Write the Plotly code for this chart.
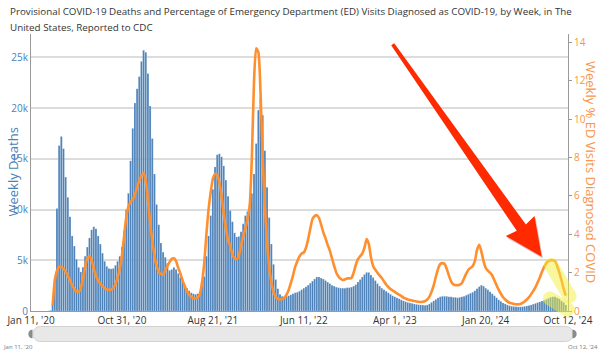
import plotly.graph_objects as go
import pandas as pd
import math

# ---------------- data ----------------
start_date = "2020-01-11"
n_weeks = 248

weekly_deaths = [
    0, 0, 0, 0, 0, 0, 0, 2, 10, 60,
    610, 3270, 10100, 16300, 17200, 16000, 13200, 11200, 9300, 7400,
    6400, 5100, 4300, 3850, 4300, 5400, 6300, 7200, 8000, 8300,
    8100, 7400, 6600, 5700, 4900, 4400, 4200, 4150, 4200, 4500,
    4900, 5400, 6300, 7900, 10000, 11600, 14800, 18000, 20500, 21900,
    23100, 24600, 25700, 25500, 23400, 20200, 17000, 13500, 10500, 8500,
    6700, 5800, 5300, 4700, 4000, 4100, 4300, 4100, 3700, 3300,
    2900, 2550, 2250, 2000, 1800, 1700, 1650, 1700, 1900, 2500,
    3400, 5400, 7400, 9400, 12000, 14200, 15400, 15500, 15200, 14300,
    12900, 11300, 9900, 8800, 7700, 7300, 7350, 7800, 8600, 9400,
    9800, 10500, 11600, 13500, 16500, 19800, 21000, 19300, 15800, 12200,
    9200, 6600, 4600, 3100, 2200, 1650, 1450, 1400, 1450, 1500,
    1600, 1700, 1800, 1850, 1950, 2100, 2250, 2400, 2550, 2750,
    2950, 3150, 3350, 3350, 3250, 3150, 3000, 2850, 2700, 2550,
    2450, 2350, 2300, 2250, 2250, 2250, 2300, 2300, 2350, 2450,
    2600, 2850, 3100, 3350, 3600, 3800, 3800, 3550, 3300, 3000,
    2700, 2450, 2250, 2100, 1950, 1800, 1650, 1500, 1400, 1300,
    1200, 1100, 1000, 920, 850, 800, 750, 700, 650, 620,
    600, 580, 560, 600, 700, 850, 1000, 1150, 1300, 1400,
    1450, 1450, 1450, 1400, 1400, 1350, 1350, 1300, 1350, 1400,
    1450, 1550, 1650, 1750, 1850, 2000, 2200, 2400, 2550, 2450,
    2250, 2100, 1900, 1700, 1500, 1300, 1100, 950, 800, 700,
    600, 520, 470, 440, 420, 410, 410, 420, 450, 500,
    550, 600, 680, 750, 830, 900, 980, 1050, 1150, 1250,
    1350, 1400, 1400, 1300, 1200, 1000, 850, 600,
]

ed_visits_pct = [
    None, None, None, None, None, None, None, None, None, None,
    0.3, 1.6, 2.1, 2.3, 2.3, 2.2, 2.05, 1.85, 1.6, 1.35,
    1.15, 1.02, 1.0, 1.2, 1.7, 2.3, 2.75, 2.85, 2.65, 2.2,
    1.85, 1.6, 1.42, 1.3, 1.18, 1.12, 1.1, 1.12, 1.2, 1.4,
    1.75, 2.2, 2.9, 3.9, 4.9, 5.45, 5.7, 5.8, 6.1, 6.45,
    6.8, 7.05, 7.2, 6.8, 5.8, 4.6, 3.7, 2.9, 2.35, 2.05,
    1.93, 1.9, 2.1, 2.35, 2.55, 2.72, 2.75, 2.6, 2.25, 1.95,
    1.6, 1.3, 1.05, 0.85, 0.75, 0.68, 0.65, 0.7, 0.9, 1.5,
    2.5, 4.0, 5.3, 6.2, 6.9, 7.15, 7.1, 6.7, 6.0, 5.1,
    4.3, 3.7, 3.4, 2.95, 2.75, 2.7, 2.9, 3.4, 3.9, 4.3,
    4.8, 5.5, 8.0, 12.0, 13.7, 13.5, 11.4, 8.0, 5.5, 3.6,
    2.3, 1.5, 1.0, 0.75, 0.63, 0.6, 0.62, 0.7, 0.85, 1.1,
    1.45, 1.85, 2.3, 2.6, 2.85, 3.0, 3.05, 3.3, 3.75, 4.3,
    4.8, 4.95, 5.0, 4.85, 4.5, 4.1, 3.8, 3.45, 3.15, 2.75,
    2.35, 2.0, 1.8, 1.68, 1.62, 1.65, 1.7, 1.7, 1.72, 2.0,
    2.4, 2.7, 2.85, 3.0, 3.3, 3.75, 3.5, 2.8, 2.35, 2.15,
    2.0, 1.85, 1.72, 1.55, 1.38, 1.25, 1.15, 1.07, 1.0, 0.92,
    0.85, 0.78, 0.7, 0.65, 0.6, 0.57, 0.55, 0.52, 0.5, 0.48,
    0.47, 0.48, 0.52, 0.6, 0.75, 1.0, 1.35, 1.8, 2.2, 2.45,
    2.5, 2.45, 2.2, 1.85, 1.55, 1.4, 1.35, 1.35, 1.37, 1.45,
    1.7, 1.95, 2.15, 2.25, 2.35, 2.6, 3.2, 3.45, 3.1, 2.6,
    2.25, 2.1, 2.0, 1.85, 1.6, 1.35, 1.1, 0.9, 0.72, 0.6,
    0.5, 0.43, 0.4, 0.37, 0.35, 0.35, 0.37, 0.42, 0.5, 0.6,
    0.72, 0.88, 1.05, 1.25, 1.5, 1.75, 2.05, 2.3, 2.5, 2.6,
    2.65, 2.65, 2.6, 2.35, 2.0, 1.6, 1.15, 0.8,
]

title_lines = [
    "Provisional COVID-19 Deaths and Percentage of Emergency Department (ED) Visits Diagnosed as COVID-19, by Week, in The",
    "United States, Reported to CDC",
]
x_tick_dates = ["2020-01-11", "2020-10-31", "2021-08-21", "2022-06-11",
                "2023-04-01", "2024-01-20", "2024-10-12"]
x_tick_labels = ["Jan 11, '20", "Oct 31, '20", "Aug 21, '21", "Jun 11, '22",
                 "Apr 1, '23", "Jan 20, '24", "Oct 12, '24"]
left_tick_vals = [0, 5000, 10000, 15000, 20000, 25000]
left_tick_labels = ["0", "5k", "10k", "15k", "20k", "25k"]
right_tick_vals = [0, 2, 4, 6, 8, 10, 12, 14]

weeks = pd.date_range(start_date, periods=n_weeks, freq="7D")
assert len(weekly_deaths) == n_weeks and len(ed_visits_pct) == n_weeks

# ---------------- layout geometry ----------------
W, H = 600, 354
L, R, T, B = 31, 568, 34, 311

def px(x):
    return (x - L) / (R - L)

def py(y):
    return (B - y) / (B - T)

def path_from(points, close=True):
    s = "M " + " L ".join(f"{px(x):.5f},{py(y):.5f}" for x, y in points)
    return s + (" Z" if close else "")

def capsule(p1, p2, r):
    dx, dy = p2[0] - p1[0], p2[1] - p1[1]
    ln = math.hypot(dx, dy)
    ux, uy = dx / ln, dy / ln
    nx, ny = -uy, ux
    k = 1.33 * r
    a = (p1[0] + nx * r, p1[1] + ny * r)
    b = (p2[0] + nx * r, p2[1] + ny * r)
    c = (p2[0] - nx * r, p2[1] - ny * r)
    d = (p1[0] - nx * r, p1[1] - ny * r)
    def P(pt):
        return f"{px(pt[0]):.5f},{py(pt[1]):.5f}"
    s = f"M {P(a)} L {P(b)} "
    s += f"C {P((b[0]+ux*k, b[1]+uy*k))} {P((c[0]+ux*k, c[1]+uy*k))} {P(c)} "
    s += f"L {P(d)} "
    s += f"C {P((d[0]-ux*k, d[1]-uy*k))} {P((a[0]-ux*k, a[1]-uy*k))} {P(a)} Z"
    return s

# ---------------- figure ----------------
fig = go.Figure()
fig.add_trace(go.Bar(
    x=weeks, y=weekly_deaths, name="Weekly Deaths",
    marker=dict(color="#4b80b8", line=dict(color="rgba(255,255,255,0.45)", width=0.4)),
    yaxis="y",
))
fig.add_trace(go.Scatter(
    x=weeks, y=ed_visits_pct, name="Weekly % ED Visits Diagnosed COVID",
    mode="lines", line=dict(color="#ff8f2e", width=2.6, shape="spline", smoothing=0.6),
    yaxis="y2", connectgaps=False,
))

shapes = []
# red arrow (with faint shadow)
tail = (392.7, 44.3)
tip = (541.7, 256.7)
dx, dy = tip[0] - tail[0], tip[1] - tail[1]
ln = math.hypot(dx, dy)
ux, uy = dx / ln, dy / ln
nx, ny = -uy, ux
head_len, head_half, shaft_tail, shaft_head = 35.5, 17.5, 1.8, 5.5
base = (tip[0] - ux * head_len, tip[1] - uy * head_len)

def arrow_pts(ox=0.0, oy=0.0):
    pts = [
        (tail[0] + nx * shaft_tail, tail[1] + ny * shaft_tail),
        (base[0] + nx * shaft_head, base[1] + ny * shaft_head),
        (base[0] + nx * head_half - ux * 2, base[1] + ny * head_half - uy * 2),
        tip,
        (base[0] - nx * head_half - ux * 2, base[1] - ny * head_half - uy * 2),
        (base[0] - nx * shaft_head, base[1] - ny * shaft_head),
        (tail[0] - nx * shaft_tail, tail[1] - ny * shaft_tail),
    ]
    return [(x + ox, y + oy) for x, y in pts]

shapes.append(dict(type="path", xref="paper", yref="paper", path=path_from(arrow_pts(1.2, 1.8)),
                   fillcolor="rgba(120,20,0,0.25)", line=dict(width=0), layer="above"))
shapes.append(dict(type="path", xref="paper", yref="paper", path=path_from(arrow_pts()),
                   fillcolor="#ff2a00", line=dict(width=0), layer="above"))

# yellow highlights
for p1, p2 in [((551, 265), (569.5, 296)), ((550, 298.5), (567.5, 309.5))]:
    shapes.append(dict(type="path", xref="paper", yref="paper", path=capsule(p1, p2, 7),
                       fillcolor="rgba(244,240,60,0.5)", line=dict(width=0), layer="above"))

# navigator bar below the chart
shapes.append(dict(type="path", xref="paper", yref="paper", path=capsule((40.5, 334), (565.5, 334), 7.5),
                   fillcolor="#e8e8e8", line=dict(color="#d2d2d2", width=1), layer="above"))
for hx, sgn in [(32.5, -1), (572.5, 1)]:
    p = (f"M {px(hx):.5f},{py(329.5):.5f} "
         f"C {px(hx + sgn*5.5):.5f},{py(329.5):.5f} {px(hx + sgn*5.5):.5f},{py(338.5):.5f} {px(hx):.5f},{py(338.5):.5f} Z")
    shapes.append(dict(type="path", xref="paper", yref="paper", path=p,
                       fillcolor="#8a8a8a", line=dict(width=0), layer="above"))

annotations = [
    dict(text=title_lines[0], xref="paper", yref="paper", x=px(8), y=py(12), showarrow=False,
         font=dict(family="Open Sans", size=9.8, color="#333"), xanchor="left", yanchor="middle"),
    dict(text=title_lines[1], xref="paper", yref="paper", x=px(8), y=py(28), showarrow=False,
         font=dict(family="Open Sans", size=9.8, color="#333"), xanchor="left", yanchor="middle"),
    dict(text="Weekly Deaths", xref="paper", yref="paper", x=px(12), y=0.5, showarrow=False,
         textangle=-90, font=dict(family="Open Sans", size=13, color="#4a7fb8"),
         xanchor="center", yanchor="middle"),
    dict(text="Weekly % ED Visits Diagnosed COVID", xref="paper", yref="paper", x=px(591), y=py(172),
         showarrow=False, textangle=90, font=dict(family="Open Sans", size=13, color="#f79447"),
         xanchor="center", yanchor="middle"),
    dict(text="Jan 11, '20", xref="paper", yref="paper", x=px(18), y=py(347), showarrow=False,
         font=dict(family="Open Sans", size=6, color="#777"), xanchor="center", yanchor="middle"),
    dict(text="Oct 12, '24", xref="paper", yref="paper", x=px(583), y=py(347), showarrow=False,
         font=dict(family="Open Sans", size=6, color="#777"), xanchor="center", yanchor="middle"),
]

fig.update_layout(
    width=W, height=H,
    margin=dict(l=L, r=W - R, t=T, b=H - B, pad=0),
    paper_bgcolor="white", plot_bgcolor="white",
    showlegend=False, bargap=0.12,
    font=dict(family="Open Sans", size=10, color="#333"),
    xaxis=dict(
        type="date", range=["2020-01-11", "2024-10-12"],
        tickvals=x_tick_dates, ticktext=x_tick_labels, tickfont=dict(size=10, color="#333"),
        showgrid=False, showline=True, linecolor="#9a9a9a", linewidth=1,
        ticks="", automargin=False, zeroline=False, fixedrange=True,
    ),
    yaxis=dict(
        range=[0, 27300], tickvals=left_tick_vals, ticktext=left_tick_labels,
        tickfont=dict(size=10, color="#4a7fb8"),
        showgrid=True, gridcolor="#dcdcdc", gridwidth=1.5,
        showline=True, linecolor="#9a9a9a", linewidth=1,
        ticks="", automargin=False, zeroline=False,
    ),
    yaxis2=dict(
        range=[0, 14.45], tickvals=right_tick_vals, overlaying="y", side="right",
        tickfont=dict(size=10, color="#f79447"),
        showgrid=False, showline=True, linecolor="#9a9a9a", linewidth=1,
        ticks="outside", ticklen=3, tickcolor="#9a9a9a",
        automargin=False, zeroline=False,
    ),
    shapes=shapes, annotations=annotations,
)

fig.write_html("out.html")
